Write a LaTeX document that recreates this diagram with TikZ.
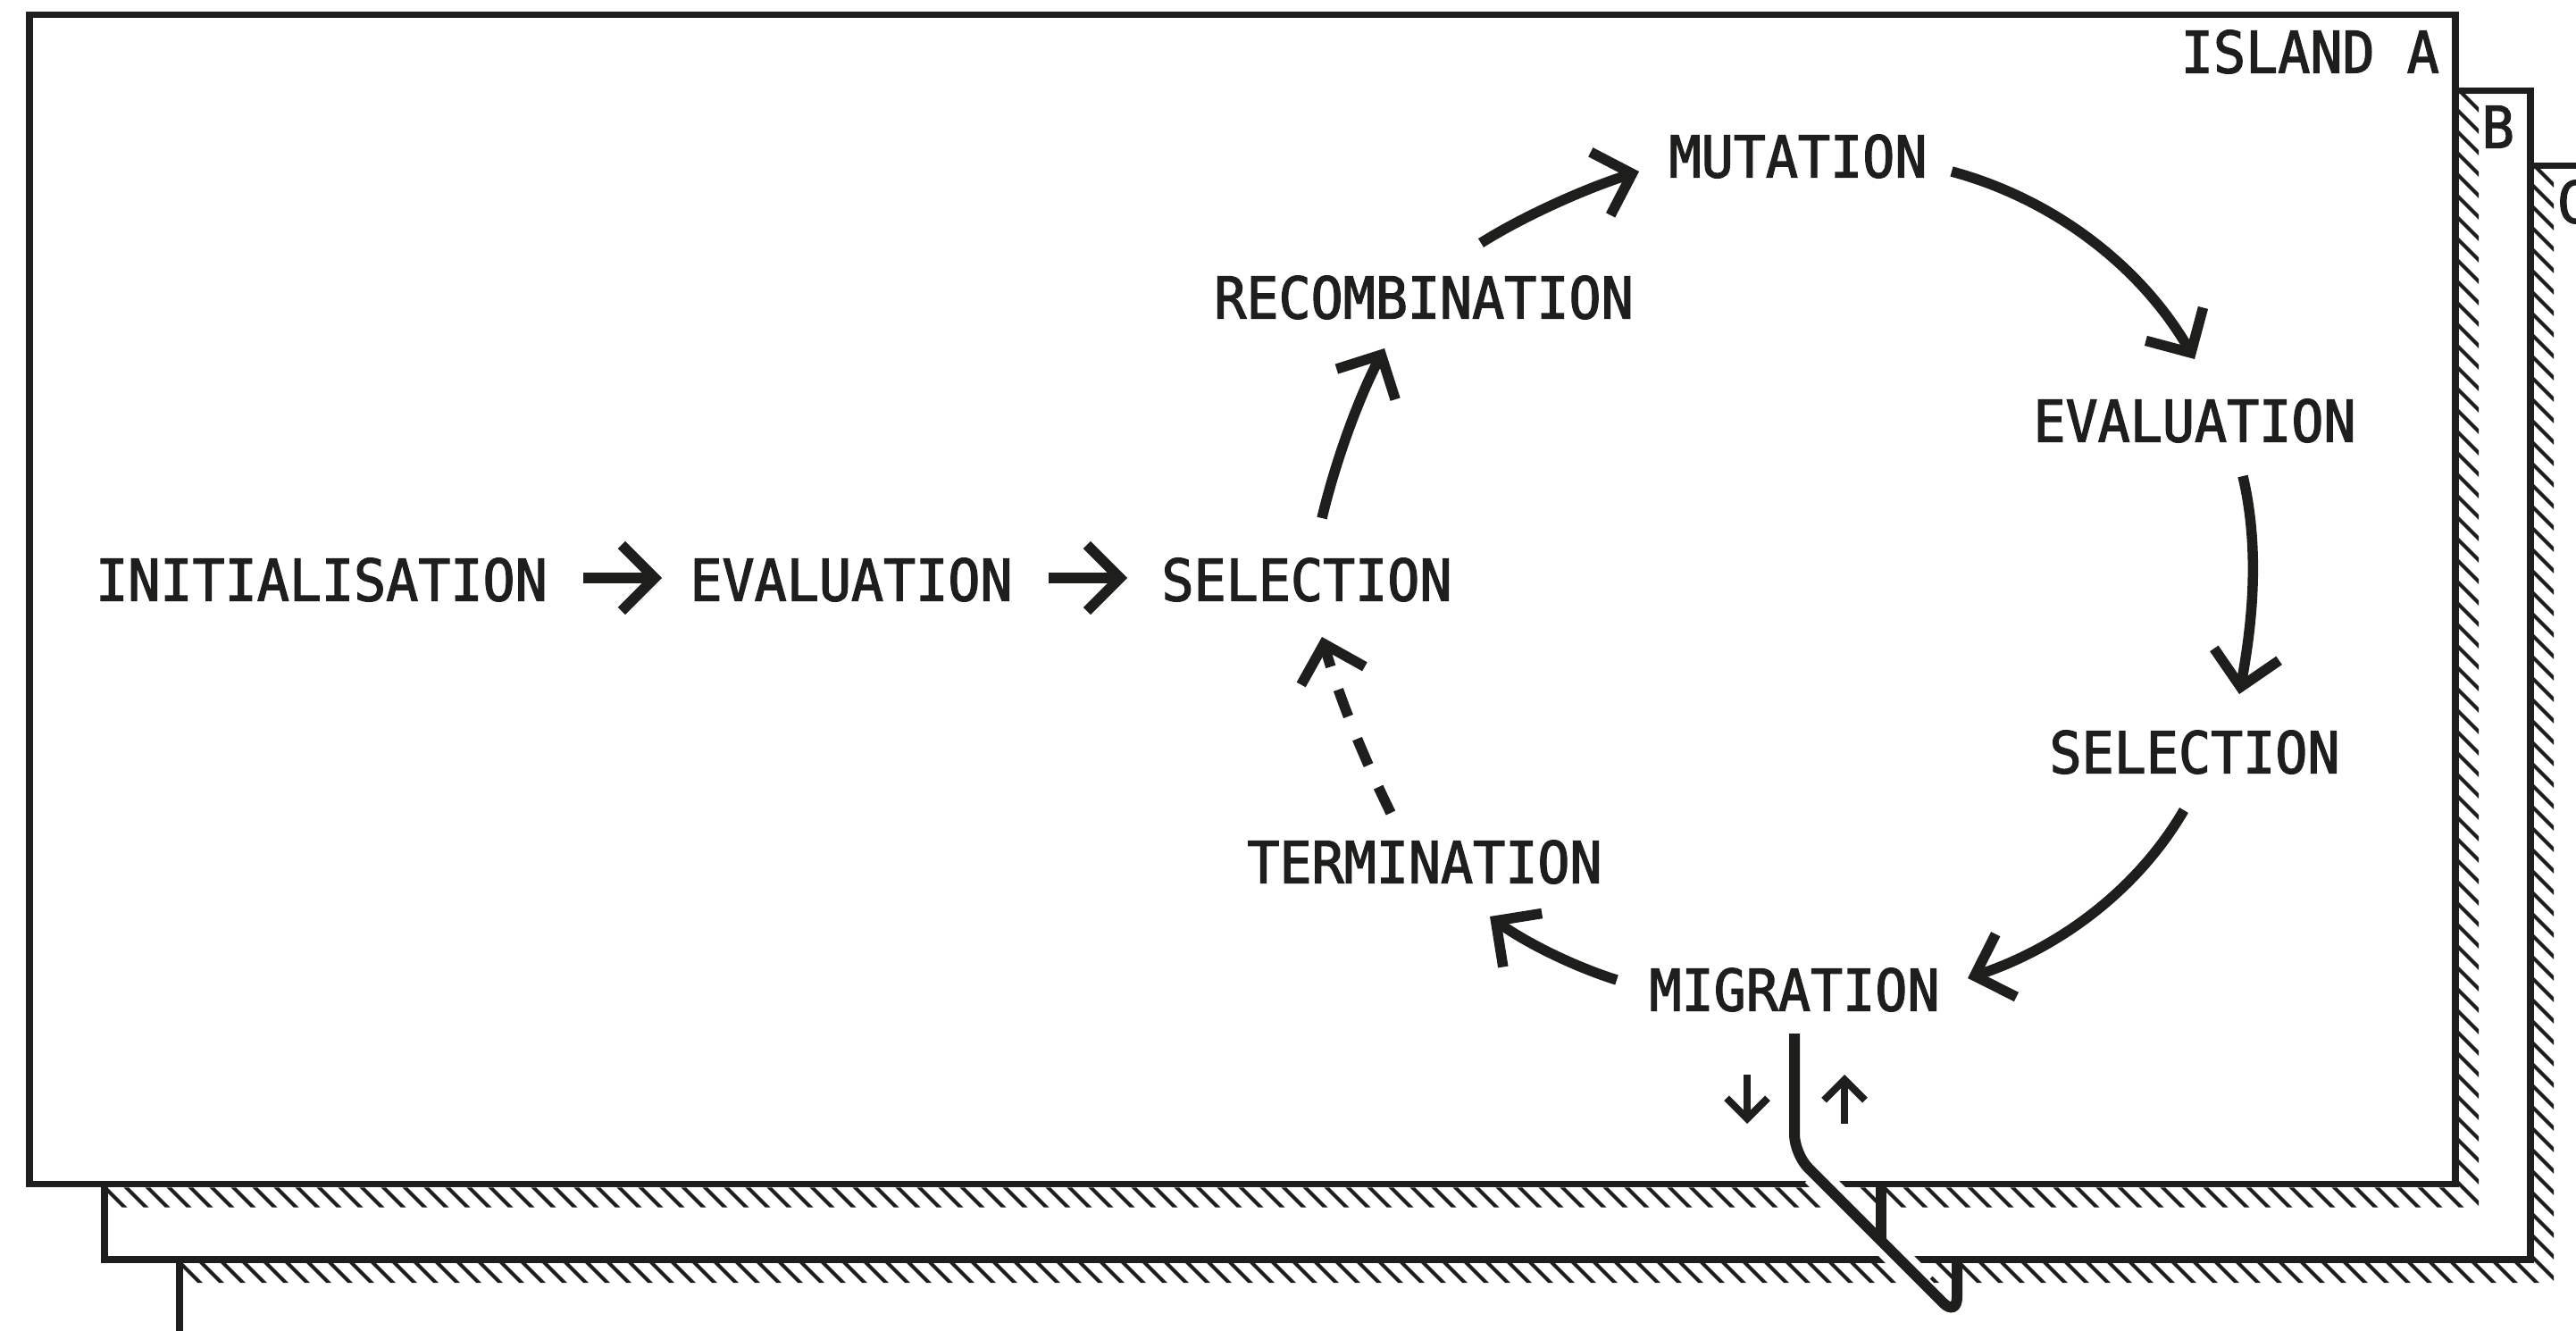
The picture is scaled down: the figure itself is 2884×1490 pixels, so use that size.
\documentclass[tikz,border=0pt]{standalone}
\usepackage{fontspec}
\newfontfamily\labelfont[FakeStretch=0.93,FakeBold=2]{DejaVu Sans Mono}
\usetikzlibrary{arrows.meta,calc}
\definecolor{ink}{RGB}{30,30,28}
\begin{document}
\begin{tikzpicture}[x=1pt,y=-1pt,
  lbl/.style={font=\labelfont\fontsize{64.5}{70}\selectfont, text=ink, inner sep=0pt},
  island/.style={draw=ink, fill=white, line width=7.5pt},
  hatchline/.style={draw=ink, line width=4pt},
  arr/.style={draw=ink, line width=11.5pt, -{Straight Barb[length=37pt,width=74pt,sharp]}},
  smallarr/.style={draw=ink, line width=8pt, -{Straight Barb[length=23pt,width=46pt,sharp]}},
  migline/.style={draw=ink, line width=12pt, rounded corners=22pt},
  casing/.style={draw=white, line width=28pt}
]
\useasboundingbox (0,0) rectangle (2884,1490);
\clip (0,0) rectangle (2884,1490);

% ---------- island C ----------
\draw[island] (201,185.5) rectangle (2917,1494);
\node[lbl, anchor=east] (islC) at (2899,226) {C};
\begin{scope}
  \clip (2836.75,189.25) -- (2859,189.25) -- (2859,1436) -- (204.75,1436)
        -- (204.75,1413.75) -- (2836.75,1413.75) -- cycle;
  \foreach \c in {-1500,-1476,...,2900} \draw[hatchline] (\c,0) -- ++(1600,1600);
\end{scope}

% ---------- island B ----------
\draw[island] (117,101.5) rectangle (2833,1410);
\node[lbl, anchor=east] (islB) at (2815,142) {B};
\begin{scope}
  \clip (2752.75,105.25) -- (2775,105.25) -- (2775,1351.5) -- (120.75,1351.5)
        -- (120.75,1329.25) -- (2752.75,1329.25) -- cycle;
  \foreach \c in {-1500,-1476,...,2900} \draw[hatchline] (\c,0) -- ++(1600,1600);
\end{scope}

% ---------- island A ----------
\draw[island] (33,16.5) rectangle (2749,1325.5);
\node[lbl, anchor=east] (islA) at (2731,58) {ISLAND A};

% ---------- stages ----------
\node[lbl] (init) at (360,649) {INITIALISATION};
\node[lbl] (ev1)  at (953,649) {EVALUATION};
\node[lbl] (sel1) at (1463,649) {SELECTION};
\node[lbl] (rec)  at (1594,333) {RECOMBINATION};
\node[lbl] (mut)  at (2013,175) {MUTATION};
\node[lbl] (ev2)  at (2457,471) {EVALUATION};
\node[lbl] (sel2) at (2457,842) {SELECTION};
\node[lbl] (mig)  at (2009,1108) {MIGRATION};
\node[lbl] (term) at (1595,965) {TERMINATION};

% ---------- connectors ----------
\draw[arr] ([shift={(293,-2)}]init.center) -- ([shift={(-212,-2)}]ev1.center);
\draw[arr] ([shift={(221,-2)}]ev1.center) -- ([shift={(-201,-2)}]sel1.center);
\draw[arr] ([shift={(17,-69)}]sel1.center) .. controls +(15,-63) and +(-30,58) .. ([shift={(-44,57)}]rec.center);
\draw[arr] ([shift={(64,-61)}]rec.center) .. controls +(51,-32) and +(-57,18) .. ([shift={(-178,17)}]mut.center);
\draw[arr] ([shift={(172,17)}]mut.center) .. controls +(115,31) and +(-59.5,-103) .. ([shift={(0,-69)}]ev2.center);
\draw[arr] ([shift={(54,62)}]ev2.center) .. controls +(19,81) and +(15,-81) .. ([shift={(50,-65)}]sel2.center);
\draw[arr] ([shift={(-12,65)}]sel2.center) .. controls +(-53,91) and +(100,-33) .. ([shift={(194,-13)}]mig.center);
\draw[arr] ([shift={(-199,-11)}]mig.center) .. controls +(-48,-15) and +(40,29) .. ([shift={(73,61)}]term.center);
\draw[arr, dash pattern=on 32pt off 27pt] ([shift={(-38,-55)}]term.center) .. controls +(-31,-63) and +(19,67) .. ([shift={(17,64)}]sel1.center);

% ---------- migration ----------
\coordinate (m1) at (2009,1292);
\coordinate (m2) at (2191,1474);
\coordinate (m3) at (2191,1414);
\draw[casing] ($(m1)!0.12!(m2)$) -- ($(m1)!0.80!(m2)$);
\draw[migline] ([shift={(0,49)}]mig.center) -- (m1) -- (m2) -- (m3);
\coordinate (bstubtop) at (2106,1329);
\coordinate (bstubend) at (2106,1390);
\draw[draw=ink, line width=12pt] (bstubtop) -- (bstubend);
\draw[smallarr] ([shift={(-53,95)}]mig.center) -- ++(0,55);
\draw[smallarr] ([shift={(56,150)}]mig.center) -- ++(0,-55);
\end{tikzpicture}
\end{document}
